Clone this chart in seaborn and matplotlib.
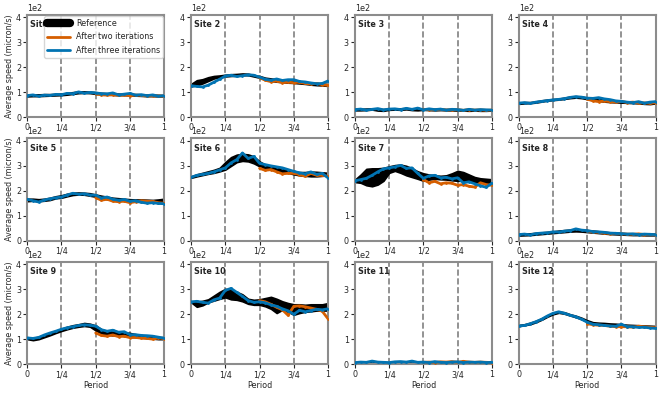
import numpy as np
import pandas as pd
import seaborn as sns
import matplotlib.pyplot as plt
from matplotlib.lines import Line2D

# period axis (25 samples from 0 to 1)
period = np.linspace(0, 1, 25)
period_half = period[12:]

sites = ['Site 1', 'Site 2', 'Site 3', 'Site 4', 'Site 5', 'Site 6',
         'Site 7', 'Site 8', 'Site 9', 'Site 10', 'Site 11', 'Site 12']

# reference band (lower / upper), micron/s
ref_lo = [
    [83, 84, 84, 85, 86, 87, 88, 90, 93, 96, 97, 96, 93, 91, 90, 89, 88, 88, 87, 86, 85, 84, 84, 83, 83],
    [123, 128, 135, 145, 155, 160, 163, 165, 166, 168, 168, 163, 158, 150, 145, 142, 140, 138, 137, 135, 133, 130, 128, 127, 125],
    [27, 27, 28, 30, 26, 25, 29, 30, 29, 31, 28, 27, 29, 28, 27, 28, 27, 27, 26, 26, 25, 26, 25, 25, 26],
    [53, 55, 56, 58, 62, 66, 68, 70, 73, 76, 78, 76, 72, 68, 65, 62, 60, 59, 58, 57, 56, 55, 53, 52, 55],
    [158, 160, 158, 160, 163, 170, 172, 178, 183, 185, 184, 180, 176, 170, 166, 164, 162, 160, 158, 156, 155, 154, 153, 155, 158],
    [252, 258, 263, 268, 272, 278, 285, 300, 315, 320, 318, 310, 298, 290, 285, 280, 276, 272, 266, 262, 260, 258, 258, 260, 262],
    [235, 232, 222, 218, 225, 240, 272, 280, 272, 262, 255, 248, 240, 245, 248, 246, 245, 242, 240, 240, 238, 236, 234, 232, 230],
    [20, 21, 22, 24, 26, 28, 30, 32, 34, 36, 37, 36, 34, 32, 30, 28, 26, 25, 24, 23, 22, 22, 21, 21, 21],
    [100, 96, 100, 108, 116, 125, 133, 140, 146, 150, 153, 150, 135, 122, 118, 115, 115, 113, 110, 108, 106, 104, 102, 100, 100],
    [248, 230, 236, 248, 255, 262, 268, 260, 258, 252, 242, 238, 238, 232, 222, 205, 218, 210, 198, 205, 210, 212, 215, 215, 215],
    [0, 0, 0, 0, 0, 0, 0, 0, 0, 0, 0, 0, 0, 0, 0, 0, 0, 0, 0, 0, 0, 0, 0, 0, 0],
    [152, 156, 160, 168, 178, 190, 200, 206, 202, 195, 188, 180, 170, 164, 162, 160, 158, 156, 155, 153, 152, 150, 150, 149, 148],
]
ref_hi = [
    [90, 91, 91, 92, 92, 93, 94, 97, 100, 103, 103, 102, 100, 97, 96, 95, 94, 93, 93, 92, 91, 90, 90, 89, 88],
    [133, 148, 152, 160, 165, 167, 170, 172, 173, 175, 174, 168, 165, 158, 155, 152, 150, 148, 146, 144, 140, 137, 135, 134, 133],
    [33, 33, 34, 35, 33, 32, 34, 35, 35, 36, 34, 33, 34, 33, 33, 33, 32, 32, 32, 31, 31, 31, 30, 30, 31],
    [58, 60, 60, 63, 67, 70, 72, 74, 78, 82, 84, 82, 78, 75, 72, 70, 67, 65, 64, 62, 61, 60, 59, 58, 60],
    [168, 168, 166, 168, 172, 178, 182, 188, 192, 193, 192, 190, 185, 180, 176, 172, 170, 168, 166, 165, 165, 164, 163, 165, 168],
    [258, 266, 272, 278, 284, 292, 315, 335, 345, 348, 346, 338, 318, 305, 298, 292, 287, 282, 278, 275, 275, 277, 276, 274, 272],
    [245, 265, 288, 290, 290, 292, 298, 303, 305, 300, 290, 278, 270, 265, 262, 260, 262, 270, 280, 275, 265, 255, 250, 248, 246],
    [27, 28, 29, 31, 33, 35, 37, 40, 42, 44, 45, 44, 42, 40, 37, 35, 33, 32, 30, 29, 28, 28, 27, 27, 27],
    [108, 105, 110, 118, 126, 134, 142, 150, 156, 160, 165, 162, 155, 140, 133, 130, 128, 127, 125, 120, 116, 113, 110, 108, 108],
    [252, 250, 254, 260, 275, 290, 302, 298, 290, 280, 262, 258, 260, 265, 270, 262, 252, 245, 240, 240, 238, 240, 240, 240, 245],
    [6, 6, 7, 7, 6, 6, 6, 7, 7, 7, 6, 6, 6, 6, 6, 6, 6, 6, 6, 6, 6, 6, 6, 6, 6],
    [157, 160, 166, 174, 184, 196, 206, 211, 208, 200, 194, 186, 176, 168, 166, 165, 163, 162, 160, 158, 157, 156, 155, 154, 153],
]

# after three iterations (whole period)
three_iter = [
    [86, 89, 84, 88, 87, 91, 90, 95, 94, 101, 96, 99, 97, 94, 93, 97, 89, 92, 95, 88, 90, 86, 89, 84, 86],
    [126, 123, 121, 128, 140, 152, 165, 168, 163, 166, 170, 168, 160, 152, 148, 153, 147, 150, 150, 143, 141, 137, 134, 135, 145],
    [30, 32, 28, 31, 34, 29, 32, 33, 30, 35, 31, 36, 29, 33, 30, 32, 28, 31, 30, 27, 31, 28, 30, 29, 28],
    [56, 58, 55, 60, 63, 66, 69, 71, 74, 79, 82, 80, 76, 75, 78, 73, 70, 65, 63, 60, 58, 62, 56, 60, 62],
    [166, 160, 155, 163, 168, 172, 175, 183, 190, 186, 188, 183, 182, 171, 175, 166, 162, 165, 158, 160, 154, 150, 152, 149, 148],
    [254, 262, 266, 270, 276, 284, 292, 312, 325, 352, 330, 338, 310, 305, 300, 296, 292, 285, 278, 272, 268, 276, 266, 270, 252],
    [240, 245, 250, 262, 276, 288, 292, 296, 302, 290, 292, 270, 250, 260, 262, 252, 254, 248, 252, 232, 236, 228, 220, 214, 230],
    [24, 26, 23, 28, 30, 31, 35, 34, 38, 40, 47, 42, 40, 36, 35, 33, 30, 29, 28, 26, 27, 24, 26, 25, 24],
    [105, 103, 107, 117, 125, 132, 140, 146, 150, 155, 158, 156, 152, 138, 132, 136, 128, 130, 118, 118, 115, 114, 112, 108, 104],
    [250, 252, 248, 245, 258, 265, 296, 304, 288, 272, 255, 248, 250, 246, 238, 232, 222, 214, 200, 216, 210, 215, 220, 218, 222],
    [6, 8, 7, 12, 8, 7, 6, 9, 10, 8, 12, 7, 8, 6, 10, 7, 6, 8, 9, 6, 8, 7, 8, 6, 7],
    [153, 155, 162, 170, 180, 193, 204, 210, 204, 196, 190, 180, 168, 160, 158, 155, 153, 152, 160, 150, 150, 147, 148, 145, 143],
]

# after two iterations (second half; first half coincides with three iterations)
two_iter = [
    [94, 89, 88, 90, 87, 89, 86, 88, 87, 84, 86, 85, 84],
    [158, 148, 142, 145, 138, 140, 138, 140, 135, 133, 135, 130, 127],
    [31, 30, 29, 31, 28, 30, 29, 27, 30, 28, 29, 27, 28],
    [72, 65, 62, 64, 62, 60, 63, 58, 60, 56, 57, 55, 58],
    [172, 162, 166, 158, 156, 158, 152, 156, 160, 158, 157, 152, 150],
    [290, 282, 285, 276, 268, 270, 270, 265, 258, 270, 262, 262, 258],
    [245, 232, 238, 228, 232, 230, 222, 225, 218, 215, 232, 225, 222],
    [38, 34, 33, 30, 28, 29, 27, 26, 25, 27, 24, 25, 23],
    [125, 115, 112, 117, 110, 112, 106, 107, 104, 103, 100, 105, 102],
    [255, 250, 240, 228, 218, 196, 232, 234, 230, 225, 220, 212, 182],
    [7, 8, 6, 9, 8, 10, 7, 11, 8, 7, 8, 7, 6],
    [162, 158, 156, 155, 152, 150, 150, 150, 148, 152, 150, 148, 146],
]

tick_pos = [0, 0.25, 0.5, 0.75, 1]
tick_lab = ['0', '1/4', '1/2', '3/4', '1']

sns.set_style('ticks')
plt.rcParams['font.family'] = ['DejaVu Sans']
fs = 5.8
plt.rcParams['font.size'] = fs

c_two = '#D55E00'
c_three = '#0173B2'

fig, axes = plt.subplots(3, 4, figsize=(6.65, 3.94), dpi=100)
fig.subplots_adjust(left=0.041, right=0.986, top=0.962, bottom=0.076, wspace=0.197, hspace=0.21)

for i, ax in enumerate(axes.flat):
    for xv in [0.25, 0.5, 0.75]:
        ax.axvline(xv, color='gray', ls='--', lw=1.2, zorder=1)
    ax.fill_between(period, ref_lo[i], ref_hi[i], color='black', lw=1.2, edgecolor='black', zorder=2)
    sns.lineplot(x=period_half, y=two_iter[i], ax=ax, color=c_two, lw=2.0,
                 marker='.', markersize=4, markeredgewidth=0, zorder=3)
    sns.lineplot(x=period, y=three_iter[i], ax=ax, color=c_three, lw=2.0,
                 marker='.', markersize=4, markeredgewidth=0, zorder=4)
    ax.set_xlim(0, 1)
    ax.set_ylim(0, 410)
    ax.set_xticks(tick_pos)
    ax.set_xticklabels(tick_lab)
    ax.set_yticks([0, 100, 200, 300, 400])
    ax.ticklabel_format(axis='y', style='sci', scilimits=(0, 0))
    ax.yaxis.get_offset_text().set_fontsize(fs)
    ax.tick_params(labelsize=fs, length=3, width=0.8, pad=1.5)
    for sp in ax.spines.values():
        sp.set_visible(True)
        sp.set_color('#8c8c8c')
        sp.set_linewidth(1.5)
    ax.text(0.02, 0.95, sites[i], transform=ax.transAxes, ha='left', va='top',
            fontsize=fs, fontweight='bold', zorder=5)
    ax.set_xlabel('Period' if i >= 8 else '', fontsize=fs, labelpad=1.5)
    ax.set_ylabel('Average speed (micron/s)' if i % 4 == 0 else '', fontsize=fs, labelpad=1.5)

handles = [Line2D([], [], color='black', lw=6),
           Line2D([], [], color=c_two, lw=2),
           Line2D([], [], color=c_three, lw=2)]
leg = axes[0, 0].legend(handles, ['Reference', 'After two iterations', 'After three iterations'],
                        loc='upper right', fontsize=fs, frameon=True, borderaxespad=0.15,
                        handlelength=2.8, handletextpad=0.8, labelspacing=0.55, borderpad=0.35)
leg.set_zorder(10)

plt.savefig('out.png', dpi=100)
